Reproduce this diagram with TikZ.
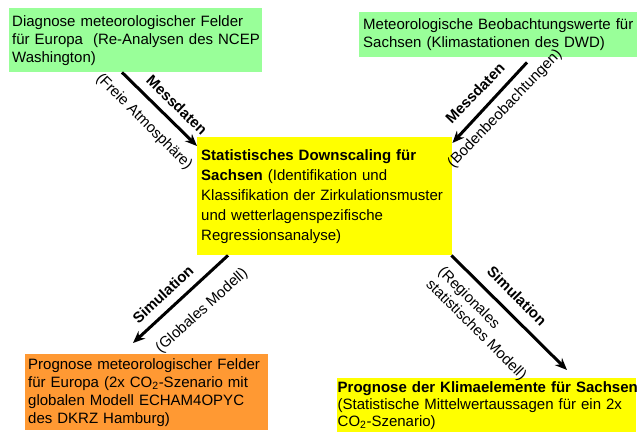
\documentclass[tikz,border=0pt]{standalone}
\usepackage{fontspec}
\setmainfont{Liberation Sans}
\usetikzlibrary{arrows.meta}
\definecolor{lgreen}{RGB}{153,255,153}
\definecolor{myyellow}{RGB}{255,255,0}
\definecolor{myorange}{RGB}{255,153,51}
\begin{document}
\begin{tikzpicture}[x=1pt,y=-1pt,
  box/.style={anchor=north west, inner xsep=3pt, inner ysep=0pt, align=left, font=\fontsize{15}{18}\selectfont},
  flow/.style={line width=3pt, -{Stealth[length=12pt,width=10pt]}},
  lab/.style={inner sep=0pt, font=\fontsize{15}{18}\selectfont},
  labb/.style={inner sep=0pt, font=\fontsize{15}{18}\selectfont\bfseries},
]
\useasboundingbox (0,0) rectangle (637,432);
\node[box, fill=lgreen, text width=247pt, minimum height=64pt] (diag) at (9,8)
  {\mbox{Diagnose meteorologischer Felder}\\\mbox{für Europa~ (Re-Analysen des NCEP}\\\mbox{Washington)}};
\node[box, fill=lgreen, inner xsep=4pt, text width=270pt, minimum height=45pt, font=\fontsize{15}{18.5}\selectfont] (beob) at (359,12)
  {\mbox{Meteorologische Beobachtungswerte für}\\\mbox{Sachsen (Klimastationen des DWD)}};
\node[box, fill=myyellow, inner xsep=4pt, text width=247pt, minimum height=118pt, font=\fontsize{15}{20}\selectfont] (ds) at (197,137)
  {\mbox{\textbf{Statistisches Downscaling für}}\\\mbox{\textbf{Sachsen} (Identifikation und}\\\mbox{Klassifikation der Zirkulationsmuster}\\\mbox{und wetterlagenspezifische}\\\mbox{Regressionsanalyse)}};
\node[box, fill=myorange, text width=237pt, minimum height=76pt] (eur) at (25,354)
  {\mbox{Prognose meteorologischer Felder}\\\mbox{für Europa (2x CO\textsubscript{2}-Szenario mit}\\\mbox{globalen Modell ECHAM4OPYC}\\\mbox{des DKRZ Hamburg)}};
\node[box, fill=myyellow, inner xsep=0.5pt, text width=298pt, minimum height=54pt, font=\fontsize{15}{17}\selectfont] (sax) at (337,378)
  {\mbox{\textbf{Prognose der Klimaelemente für Sachsen}}\\\mbox{(Statistische Mittelwertaussagen für ein 2x}\\\mbox{CO\textsubscript{2}-Szenario)}};

\draw[flow] ([xshift=113pt]diag.south west) -- ([yshift=-9pt]ds.north west);
\draw[flow] ([xshift=168pt,yshift=-5pt]beob.south west) -- ([yshift=-6pt]ds.north east);
\draw[flow] ([xshift=31pt]ds.south west) -- ([xshift=108pt,yshift=11pt]eur.north west);
\draw[flow] ([xshift=-1pt]ds.south east) -- ([xshift=230pt,yshift=8pt]sax.north west);

\node[labb, rotate=-44] (m1) at (177,105) {Messdaten};
\node[lab, rotate=-45] (f1) at (144,122) {(Freie Atmosphäre)};
\node[labb, rotate=46] (m2) at (475,93) {Messdaten};
\node[lab, rotate=46] (b2) at (505,109) {(Bodenbeobachtungen)};
\node[labb, rotate=43] (s3) at (163,294) {Simulation};
\node[lab, rotate=42] (g3) at (202,311) {(Globales Modell)};
\node[labb, rotate=-45] (s4) at (517,296) {Simulation};
\node[lab, rotate=-45, align=left, font=\fontsize{15}{17.5}\selectfont] (r4) at (482,324) {(Regionales\\statistisches Modell)};
\end{tikzpicture}
\end{document}
